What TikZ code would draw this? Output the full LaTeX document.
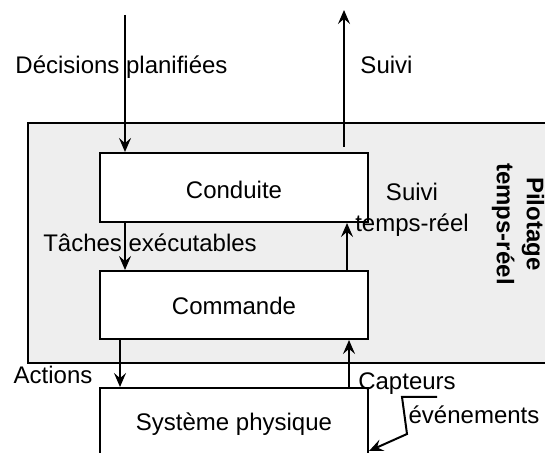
\documentclass[tikz,border=0pt]{standalone}
\usepackage{fontspec}
\setmainfont{Liberation Sans}
\usetikzlibrary{arrows.meta,calc}
\definecolor{panelgray}{HTML}{EEEEEE}
\tikzset{
  px/.style={x=0.5pt,y=-0.5pt},
  lbl/.style={font=\fontsize{12}{15.5}\selectfont,inner sep=0pt,anchor=base},
  blk/.style={draw,fill=white,line width=1pt,minimum width=134pt,inner sep=0pt},
  arr/.style={line width=1pt,-{Stealth[length=7pt,width=6pt,inset=2.6pt]}},
  frame/.style={draw,fill=panelgray,line width=1pt}
}
\begin{document}
\begin{tikzpicture}[px]
\useasboundingbox (0,0) rectangle (545,453);
\clip (0,0) rectangle (545,453);
% panel
\path[frame] (560,123.5) -- (28,123.5) -- (28,363) -- (560,363);
% boxes
\node[blk,minimum height=34.5pt] (cond) at (234,187.5) {};
\node[blk,minimum height=34pt] (cmd) at (234,305) {};
\node[blk,minimum height=45pt] (sys) at (234,433) {};
% labels in boxes
\node[lbl] (tcond) at (234,199) {Conduite};
\node[lbl] (tcmd) at (234,315) {Commande};
\node[lbl] (tsys) at (234,430) {Système physique};
% free ends
\coordinate (din) at (125,15);
\coordinate (sout) at (344,10);
\coordinate (sfrom) at (344,147);
% arrows
\draw[arr] (din) -- (cond.north -| din);
\draw[arr] (sfrom) -- (sout);
\draw[arr] (cond.south -| 125,0) -- (cmd.north -| 125,0);
\draw[arr] (cmd.north -| 347,0) -- (cond.south -| 347,0);
\draw[arr] (cmd.south -| 120,0) -- (sys.north -| 120,0);
\draw[arr] (sys.north -| 349,0) -- (cmd.south -| 349,0);
% events callout
\coordinate (e1) at (437,397);
\coordinate (e2) at (402,397);
\coordinate (e3) at (407,434);
\draw[arr] (e1) -- (e2) -- (e3) -- (sys.east |- 0,451);
% labels
\node[lbl] (ldec) at (121.5,74) {Décisions planifiées};
\node[lbl] (lsuivi) at (386.5,74) {Suivi};
\node[lbl] (ltach) at (150,252) {Tâches exécutables};
\node[lbl,align=center] (lstr) at (412,232) {Suivi\\temps-réel};
\node[lbl] (lact) at (53,384) {Actions};
\node[lbl] (lcap) at (407,390) {Capteurs};
\node[lbl] (lev) at (474,423) {événements};
\node[font=\fontsize{12}{15}\selectfont\bfseries,align=center,rotate=-90,inner sep=0pt] (pil) at (518,224) {Pilotage\\temps-réel};
\end{tikzpicture}
\end{document}
